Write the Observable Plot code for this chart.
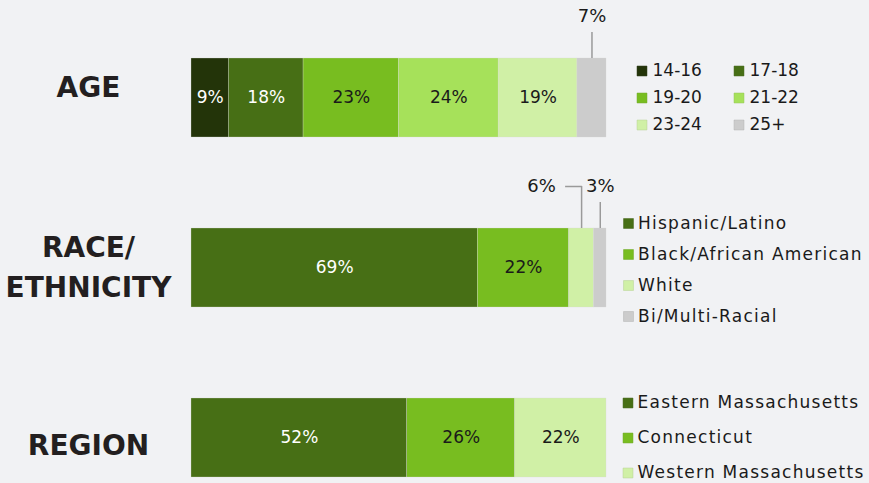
<!DOCTYPE html>
<html>
<head>
<meta charset="utf-8">
<script src="https://cdn.jsdelivr.net/npm/d3@7"></script>
<script src="https://cdn.jsdelivr.net/npm/@observablehq/plot@0.6"></script>
<style>
  html, body { margin: 0; padding: 0; background: #f1f2f4; }
  #chart { width: 869px; height: 483px; }
</style>
</head>
<body>
<div id="chart"></div>
<script>
// ---- data ----
const groups = ["AGE", "RACE/ETHNICITY", "REGION"];
const groupLabels = ["AGE", "RACE/\nETHNICITY", "REGION"];

const ageCats = ["14-16", "17-18", "19-20", "21-22", "23-24", "25+"];
const ageValues = [9, 18, 23, 24, 19, 7];

const raceCats = ["Hispanic/Latino", "Black/African American", "White", "Bi/Multi-Racial"];
const raceValues = [69, 22, 6, 3];

const regionCats = ["Eastern Massachusetts", "Connecticut", "Western Massachusetts"];
const regionValues = [52, 26, 22];

// ---- styles ----
const ageColors = ["#233409", "#476f15", "#78bd20", "#a6e15a", "#d0f0a6", "#cccccc"];
const raceColors = ["#476f15", "#78bd20", "#d0f0a6", "#cccccc"];
const regionColors = ["#476f15", "#78bd20", "#d0f0a6"];

function build(group, cats, values, colors) {
  let acc = 0;
  return cats.map((c, i) => {
    const r = {group, cat: c, value: values[i], color: colors[i], x1: acc, x2: acc + values[i], index: i};
    r.mid = (r.x1 + r.x2) / 2;
    acc += values[i];
    return r;
  });
}
const rows = [
  ...build(groups[0], ageCats, ageValues, ageColors),
  ...build(groups[1], raceCats, raceValues, raceColors),
  ...build(groups[2], regionCats, regionValues, regionColors)
];

// ---- layout ----
const W = 869, H = 483;
const barLeft = 191, barRight = 606;
const bandH = 79;
const pxPerUnit = (barRight - barLeft) / 100;
const ux = px => (px - barLeft) / pxPerUnit; // pixel -> data units (for legend placement)
const FONT = "'DejaVu Sans', sans-serif";
const INK = "#1a1a1a";
const LINE = "#9a9a9a";

const inside = rows.filter(d => d.value >= 9);
const isDark = d => d3.lab(d.color).l < 50;
const callouts = rows.filter(d => d.value < 9);
const elbow = callouts.filter(d => callouts.some(e => e.group === d.group && e.index === d.index + 1));
const straight = callouts.filter(d => !elbow.includes(d));

const marks = [];

// bars
marks.push(Plot.barX(rows, {x1: "x1", x2: "x2", y: "group", fill: "color", stroke: "#d6d6d6", strokeWidth: 0.3}));

// inside labels
marks.push(Plot.text(inside.filter(isDark), {x: "mid", y: "group", text: d => d.value + "%", fill: "white", fontSize: 17}));
marks.push(Plot.text(inside.filter(d => !isDark(d)), {x: "mid", y: "group", text: d => d.value + "%", fill: INK, fontSize: 17}));

// callouts (vertical leaders: band-spanning ticks shifted up by one band height)
marks.push(Plot.tickX(straight, {x: "mid", y: "group", stroke: LINE, strokeWidth: 1.5, insetTop: bandH - 26, dy: -bandH}));
marks.push(Plot.text(straight, {x: "mid", y: "group", text: d => d.value + "%", fill: INK, fontSize: 18, dy: -81.5}));
marks.push(Plot.tickX(elbow, {x: "mid", y: "group", stroke: LINE, strokeWidth: 1.5, insetTop: bandH - 42, dy: -bandH}));
marks.push(Plot.ruleY(elbow, {x1: d => d.mid - 16 / pxPerUnit, x2: d => d.mid + 0.75 / pxPerUnit, y: "group", stroke: LINE, strokeWidth: 1.5, dy: -81.5}));
marks.push(Plot.text(elbow, {x: "mid", y: "group", text: d => d.value + "%", fill: INK, fontSize: 18, dx: -40, dy: -82}));

// group labels on the left
const labelDy = [-14, -4, 4.5];
groups.forEach((g, i) => {
  marks.push(Plot.text([g], {
    y: d => d, frameAnchor: "left", dx: 88 - barLeft, text: [groupLabels[i]],
    fontSize: 28, fontWeight: "bold", fill: "#231f20", lineHeight: 40 / 28, textAnchor: "middle", dy: labelDy[i]
  }));
});

// legends
const legendEntries = [];
rows.forEach(d => {
  let sq, tx, dy;
  if (d.group === groups[0]) {
    const col = d.index % 2, row = Math.floor(d.index / 2);
    sq = col === 0 ? 641.5 : 738.5;
    tx = col === 0 ? 652 : 749;
    dy = (row - 1) * 27;
  } else if (d.group === groups[1]) {
    sq = 628; tx = 637.5; dy = (d.index - 1.5) * 31 + 2;
  } else {
    sq = 627.5; tx = 637; dy = (d.index - 1) * 35;
  }
  legendEntries.push({...d, sq, tx, dy});
});
legendEntries.forEach(e => {
  marks.push(Plot.dot([e], {x: d => ux(d.sq), y: "group", symbol: "square", r: 5.6, fill: "color", dy: e.dy,
    stroke: d => d3.color(d.color).darker(0.4).formatHex(), strokeWidth: 0.5}));
  marks.push(Plot.text([e], {x: d => ux(d.tx), y: "group", text: "cat", textAnchor: "start", fontSize: 17, fill: INK, dy: e.dy,
    ariaDescription: e.group === groups[0] ? "legend-age" : "legend-words"}));
});

const plot = Plot.plot({
  width: W,
  height: H,
  marginLeft: barLeft,
  marginRight: W - barRight,
  marginTop: 0,
  marginBottom: 0,
  style: {fontFamily: FONT, background: "#f1f2f4", overflow: "visible"},
  x: {domain: [0, 100], axis: null},
  y: {type: "band", domain: groups, range: [58, 477], paddingInner: 91 / 170, paddingOuter: 0, axis: null},
  color: {type: "identity"},
  marks
});
// wider tracking for the word legends, matching the reference typeface width
d3.select(plot).selectAll('g[aria-description="legend-words"] text').style("letter-spacing", "1.25px");
document.getElementById("chart").appendChild(plot);
</script>
</body>
</html>
